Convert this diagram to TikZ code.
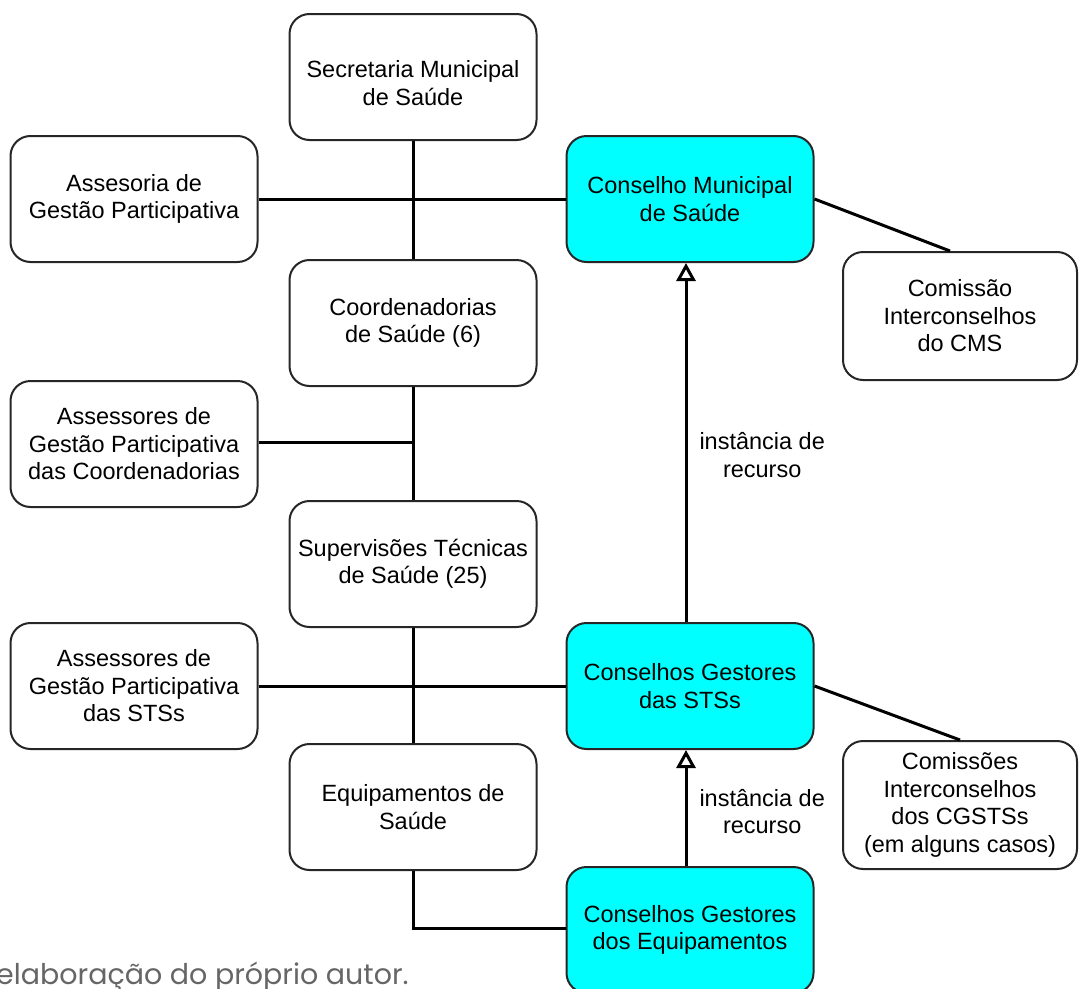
\documentclass[tikz,border=0pt]{standalone}
\usepackage{fontspec}
\setmainfont{Liberation Sans}
\newfontfamily\notefont{Poppins}
\usetikzlibrary{arrows.meta}
\definecolor{boxcyan}{HTML}{00FFFF}
\definecolor{notegray}{HTML}{666666}
\begin{document}
\begin{tikzpicture}[x=1pt,y=-1pt,
  box/.style={draw=black!85, line width=2pt, rounded corners=20pt, fill=white,
    minimum width=247pt, minimum height=126pt, align=center, inner sep=0pt,
    font=\fontsize{23.5}{27.5}\selectfont},
  sidebox/.style={box, minimum width=234pt, minimum height=128pt},
  council/.style={box, fill=boxcyan},
  conn/.style={line width=3pt, black},
  arr/.style={line width=3pt, black, -{Triangle[open, length=18pt, width=19pt, line width=3pt]}},
  lbl/.style={align=center, inner sep=0pt, font=\fontsize{23.5}{27.5}\selectfont}]
\useasboundingbox (0,0) rectangle (1079,988);
\clip (0,0) rectangle (1079,988);
% nodes
\node[box, label={[lbl, yshift=-6pt]center:Secretaria Municipal\\de Saúde}] (sec) at (413,77) {};
\node[box] (ass1) at (134,199) {Assesoria de\\Gestão Participativa};
\node[council] (cms) at (690,199) {Conselho Municipal\\de Saúde};
\node[box] (coord) at (413,323) {Coordenadorias\\de Saúde (6)};
\node[sidebox] (com1) at (960,316) {Comissão\\Interconselhos\\do CMS};
\node[box] (ass2) at (134,444) {Assessores de\\Gestão Participativa\\das Coordenadorias};
\node[box] (sup) at (413,564) {Supervisões Técnicas\\de Saúde (25)};
\node[box] (ass3) at (134,686) {Assessores de\\Gestão Participativa\\das STSs};
\node[council] (cgsts) at (690,686) {Conselhos Gestores\\das STSs};
\node[sidebox] (com2) at (960,805) {Comissões\\Interconselhos\\dos CGSTSs\\(em alguns casos)};
\node[box] (equip) at (413,807) {Equipamentos de\\Saúde};
\node[council] (cgeq) at (690,930) {Conselhos Gestores\\dos Equipamentos};
% connectors
\draw[conn] (sec.south) -- (coord.north);
\draw[conn] (ass1.east) -- (cms.west);
\draw[conn] (coord.south) -- (sup.north);
\draw[conn] ([yshift=2pt]ass2.east) -- ([yshift=2pt]ass2.east -| coord.south);
\draw[conn] (sup.south) -- (equip.north);
\draw[conn] (ass3.east) -- (cgsts.west);
\draw[conn] (equip.south) |- ([yshift=2pt]cgeq.west);
\draw[arr] ([xshift=-4pt]cgsts.north) -- ([xshift=-4pt]cms.south)
  node[lbl, pos=0.465, right=12pt] {instância de\\recurso};
\draw[arr] ([xshift=-4pt]cgeq.north) -- ([xshift=-4pt]cgsts.south)
  node[lbl, pos=0.47, right=12pt] {instância de\\recurso};
\draw[conn] (cms.east) -- ([xshift=-10pt]com1.north);
\draw[conn] (cgsts.east) -- (com2.north);
% note
\node[anchor=base west, inner sep=0pt, text=notegray, font=\notefont\fontsize{28.5}{31}\selectfont] (note) at (-4,984) {elaboração do próprio autor.};
\end{tikzpicture}
\end{document}
